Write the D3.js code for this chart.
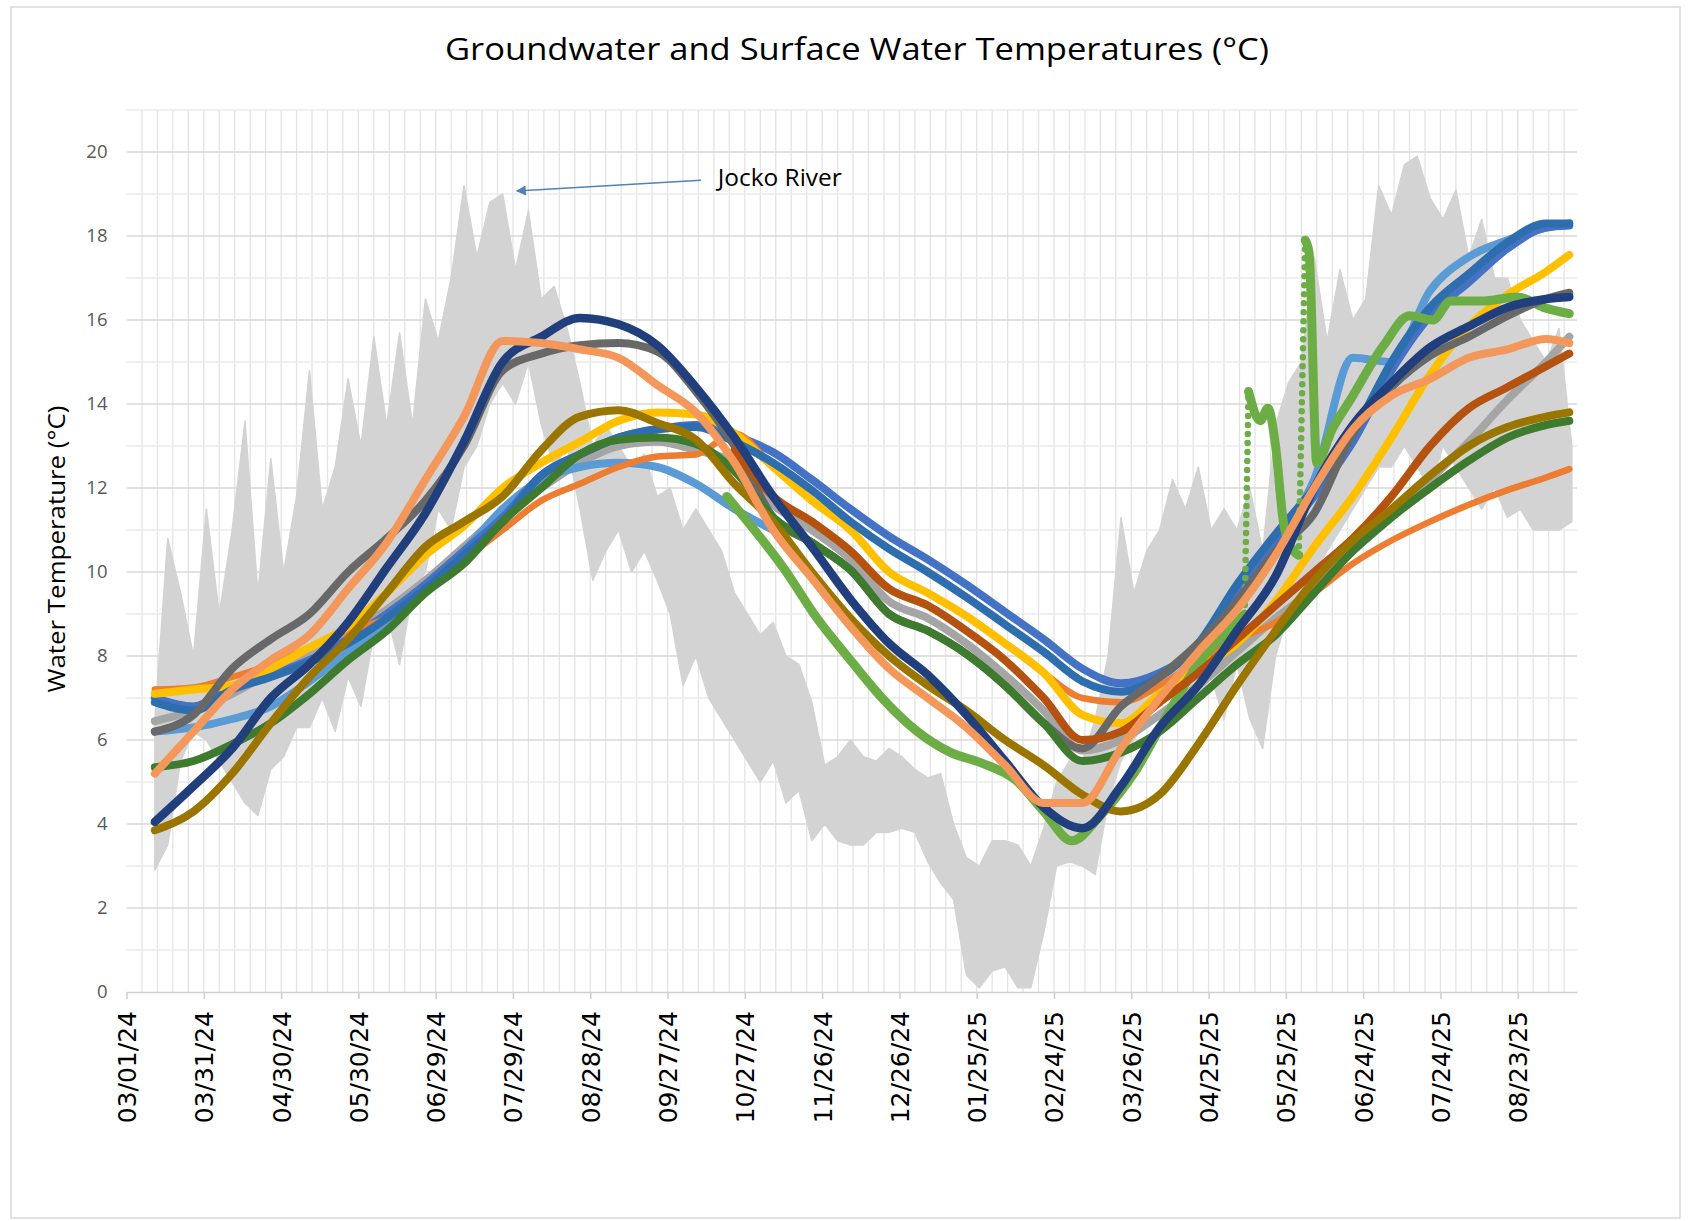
<!DOCTYPE html>
<html>
<head>
<meta charset="utf-8">
<title>Groundwater and Surface Water Temperatures</title>
<script src="https://cdn.jsdelivr.net/npm/d3@7"></script>
<style>
  body { margin: 0; background: #fff; }
  svg { display: block; }
</style>
</head>
<body>
<div id="chart"></div>
<script>
// ---- data (days counted from 03/01/24) ----
var gridDays = [11, 26, 41, 56, 71, 86, 101, 116, 131, 146, 161, 176, 191, 206, 221, 236, 251, 266, 281,
  296, 311, 326, 341, 356, 371, 386, 401, 416, 431, 446, 461, 476, 491, 506, 521, 536, 551, 560];

var grayTemps = [6.45, 6.7, 7.1, 7.6, 8.0, 8.5, 9.1, 9.8, 10.6, 11.4, 12.0, 12.6, 13.0, 13.1, 12.9, 12.6, 11.6, 11.0, 10.3,
  9.3, 8.9, 8.3, 7.55, 6.7, 5.75, 6.0, 6.6, 7.3, 8.1, 8.9, 9.6, 10.5, 11.3, 12.2, 13.1, 14.1, 15.0, 15.6];
var lightBlueTemps = [6.2, 6.3, 6.5, 6.8, 7.4, 8.1, 8.8, 9.7, 10.5, 11.5, 12.2, 12.5, 12.6, 12.5, 12.1, 11.5, 11.0, null, null,
  null, null, null, null, null, null, null, null, null, null, 10.8, 12.2, 15.1, 15.0, 16.7, 17.5, 17.9, 18.2, 18.3];
var royalBlueTemps = [7.0, 6.8, 7.25, 7.55, 7.9, 8.4, 9.0, 9.7, 10.5, 11.3, 12.3, 12.8, 13.2, 13.4, 13.5, 13.25, 12.85, 12.2, 11.5,
  10.85, 10.3, 9.7, 9.05, 8.4, 7.7, 7.35, 7.6, 8.2, 9.5, 10.7, 11.8, 13.1, 14.8, 16.1, 16.9, 17.7, 18.2, 18.25];
var orangeTemps = [7.2, 7.25, 7.5, 7.8, 8.2, 8.6, 8.9, 9.6, 10.3, 11.0, 11.7, 12.1, 12.5, 12.75, 12.8, 13.3, 12.5, 11.7, 11.0,
  10.0, 9.5, 8.95, 8.3, 7.6, 7.0, 6.9, 7.3, 7.9, 8.4, 8.8, 9.5, 10.2, 10.75, 11.2, 11.6, 11.95, 12.25, 12.45];
var goldTemps = [7.1, 7.2, 7.3, 7.7, 8.2, 8.7, 9.5, 10.4, 11.1, 12.0, 12.6, 13.1, 13.6, 13.8, 13.75, 13.3, 12.5, 11.7, 11.0,
  10.0, 9.5, 8.95, 8.3, 7.6, 6.6, 6.4, 7.1, 7.7, 8.3, 9.3, 10.6, 11.8, 13.2, 14.7, 15.85, 16.6, 17.15, 17.55];
var steelBlueTemps = [6.9, 6.7, 7.2, 7.5, 7.85, 8.3, 8.9, 9.6, 10.4, 11.2, 12.3, 12.8, 13.2, 13.4, 13.45, 13.1, 12.6, 11.95, 11.2,
  10.55, 10.0, 9.4, 8.75, 8.1, 7.4, 7.15, 7.5, 8.3, 9.7, 10.9, 12.0, 13.3, 15.0, 16.3, 17.1, 17.85, 18.3, 18.3];
var brownTemps = [null, null, null, null, null, null, null, null, null, null, null, null, null, null, null, 12.9, 11.8, 11.2, 10.5,
  9.6, 9.2, 8.6, 7.9, 7.0, 6.0, 6.2, 6.9, 7.6, 8.4, 9.2, 10.0, 10.8, 11.8, 13.0, 13.9, 14.4, 14.9, 15.2];
var darkGrayTemps = [6.2, 6.6, 7.7, 8.4, 9.0, 10.0, 10.8, 11.7, 13.0, 14.8, 15.2, 15.4, 15.45, 15.25, 14.3, 13.0, 11.3, 10.7, 10.05,
  9.0, 8.6, 8.05, 7.3, 6.4, 5.8, 6.8, 7.5, 8.3, 9.3, 10.5, 11.4, 13.3, 14.4, 15.15, 15.6, 16.1, 16.5, 16.65];
var darkGreenTemps = [5.35, 5.5, 5.9, 6.4, 7.1, 7.9, 8.6, 9.5, 10.2, 11.2, 12.0, 12.8, 13.15, 13.2, 13.05, 12.4, 11.3, 10.7, 10.05,
  9.0, 8.6, 8.05, 7.3, 6.4, 5.5, 5.7, 6.2, 7.0, 7.8, 8.5, 9.5, 10.5, 11.3, 12.0, 12.65, 13.2, 13.5, 13.6];
var oliveTemps = [3.85, 4.3, 5.2, 6.4, 7.5, 8.4, 9.5, 10.6, 11.2, 11.8, 12.9, 13.7, 13.85, 13.55, 13.15, 12.1, 11.2, 10.0, 8.9,
  8.0, 7.3, 6.7, 6.0, 5.4, 4.7, 4.3, 4.7, 5.9, 7.3, 8.6, 9.8, 10.75, 11.5, 12.3, 13.0, 13.45, 13.7, 13.8];
var navyTemps = [4.05, 4.9, 5.8, 7.0, 7.8, 8.8, 10.1, 11.4, 13.1, 15.0, 15.6, 16.05, 15.9, 15.4, 14.4, 13.2, 11.8, 10.6, 9.35,
  8.3, 7.55, 6.6, 5.5, 4.4, 3.9, 4.9, 6.3, 7.3, 8.6, 9.9, 12.0, 13.5, 14.5, 15.35, 15.85, 16.3, 16.5, 16.55];
var lightOrangeTemps = [5.2, 6.2, 7.2, 7.9, 8.5, 9.6, 10.7, 12.2, 13.7, 15.5, 15.45, 15.3, 15.1, 14.45, 13.8, 12.6, 11.0, 9.85, 8.7,
  7.7, 7.0, 6.3, 5.4, 4.5, 4.5, 5.8, 7.0, 8.1, 9.1, 10.4, 12.0, 13.4, 14.2, 14.6, 15.1, 15.3, 15.55, 15.45];

// green logger has its own (irregular) dates
var greenDays = [233, 245, 255, 268, 281, 294, 307, 320, 332, 345, 356, 367, 378, 391, 404, 417, 428, 434, 435.5, 440,
  443, 446, 449, 452, 455, 457.5, 459, 462, 468, 475, 488, 498, 507, 514, 526, 540, 550, 560];
var greenTemps = [11.8, 10.9, 10.1, 8.9, 7.9, 6.95, 6.2, 5.7, 5.45, 5.05, 4.3, 3.6, 4.2, 5.2, 6.6, 7.9, 8.6, 9.0, 14.3, 13.6,
  13.9, 13.0, 11.2, 10.6, 10.4, 17.9, 17.6, 12.6, 13.4, 14.1, 15.4, 16.1, 16.0, 16.45, 16.45, 16.55, 16.3, 16.15];

// Jocko River daily range, every 5 days from day 11
var jockoLow = [2.9, 3.5, 5.5, 6.2, 6.0, 5.5, 5.0, 4.5, 4.2, 5.3,
  5.6, 6.3, 6.3, 7.0, 6.2, 7.5, 6.8, 8.5, 9.0, 7.8,
  9.5, 10.0, 11.5, 11.0, 12.5, 13.0, 14.0, 14.5, 14.0, 15.0,
  13.5, 12.5, 13.0, 11.5, 9.8, 10.5, 11.0, 10.0, 10.5, 9.8,
  9.0, 7.3, 8.0, 7.0, 6.5, 6.0, 5.5, 5.0, 5.5, 4.5,
  4.8, 3.6, 4.0, 3.6, 3.5, 3.5, 3.8, 3.8, 3.9, 3.8,
  3.1, 2.6, 2.2, 0.4, 0.1, 0.5, 0.6, 0.1, 0.1, 1.4,
  3.0, 3.1, 3.0, 2.8, 4.5, 5.5, 6.0, 6.5, 7.0, 7.0,
  7.5, 7.0, 7.5, 6.5, 7.8, 6.5, 5.8, 8.0, 9.0, 9.5,
  10.0, 10.5, 11.0, 11.5, 12.0, 12.5, 12.5, 13.0, 12.5, 12.0,
  13.0, 12.5, 12.0, 11.5, 12.0, 11.3, 11.5, 11.0, 11.0, 11.0, 11.2];
var jockoHigh = [6.5, 10.8, 9.5, 8.0, 11.5, 9.0, 11.0, 13.6, 9.5, 12.7,
  10.0, 11.8, 14.8, 11.5, 12.5, 14.6, 13.0, 15.6, 13.5, 15.7,
  13.5, 16.5, 15.5, 17.0, 19.2, 17.5, 18.8, 19.0, 17.2, 18.6,
  16.5, 16.8, 15.8, 14.5, 13.0, 13.5, 13.0, 12.5, 12.8, 11.8,
  12.0, 11.0, 11.5, 11.0, 10.5, 9.5, 9.0, 8.5, 8.8, 8.0,
  7.8, 6.9, 5.4, 5.6, 6.0, 5.6, 5.5, 5.8, 5.6, 5.3,
  5.1, 5.2, 4.0, 3.2, 3.0, 3.6, 3.6, 3.5, 3.0, 3.9,
  5.0, 5.5, 5.5, 6.5, 8.0, 11.3, 9.5, 10.5, 11.0, 12.2,
  11.5, 12.5, 11.0, 11.5, 11.0, 12.0, 10.5, 13.5, 14.5, 15.0,
  17.5, 15.5, 17.2, 16.0, 16.5, 19.2, 18.5, 19.7, 19.9, 18.9,
  18.4, 19.1, 17.5, 18.4, 17.0, 17.0, 16.0, 15.5, 15.0, 15.8, 13.0];
var jockoDays = d3.range(11, 562, 5);

var yTicks = [0, 2, 4, 6, 8, 10, 12, 14, 16, 18, 20];
var xTickDays = d3.range(0, 541, 30);
var annotation = { label: "Jocko River", tailDay: 223, tailTemp: 19.33, headDay: 151.5, headTemp: 19.07, textDay: 229.5, textTemp: 19.2 };

// ---- layout ----
var svgWidth = 1688, svgHeight = 1221;
var plot = { left: 126.5, right: 1577, top: 110, bottom: 992 };
var fontMain = "'Open Sans', 'Noto Sans', sans-serif";

var day0 = Date.UTC(2024, 2, 1);
function toDate(d) { return new Date(day0 + d * 86400000); }

var svg = d3.select("#chart").append("svg")
  .attr("width", svgWidth)
  .attr("height", svgHeight);

// chart frame
svg.append("rect")
  .attr("x", 11).attr("y", 7)
  .attr("width", 1669).attr("height", 1211)
  .attr("fill", "#fff")
  .attr("stroke", "#d9d9d9")
  .attr("stroke-width", 1.5);

var x = d3.scaleUtc()
  .domain([toDate(0), toDate(563)])
  .range([plot.left, plot.right]);
var y = d3.scaleLinear()
  .domain([0, 21])
  .range([plot.bottom, plot.top]);

// gridlines
var grid = svg.append("g");
grid.selectAll(".vgrid")
  .data(d3.range(6, 564, 6))
  .enter().append("line")
  .attr("x1", d => x(toDate(d))).attr("x2", d => x(toDate(d)))
  .attr("y1", y(21)).attr("y2", y(0))
  .attr("stroke", "#e4e4e4").attr("stroke-width", 1.3);
grid.selectAll(".hminor")
  .data(d3.range(1, 22, 2))
  .enter().append("line")
  .attr("x1", plot.left).attr("x2", plot.right)
  .attr("y1", d => y(d)).attr("y2", d => y(d))
  .attr("stroke", "#ebebeb").attr("stroke-width", 1.3);
grid.selectAll(".hmajor")
  .data(yTicks.slice(1))
  .enter().append("line")
  .attr("x1", plot.left).attr("x2", plot.right)
  .attr("y1", d => y(d)).attr("y2", d => y(d))
  .attr("stroke", "#d9d9d9").attr("stroke-width", 1.6);

// Jocko River band
var jocko = jockoDays.map((d, i) => ({ d: d, lo: jockoLow[i], hi: jockoHigh[i] }));
svg.append("path")
  .datum(jocko)
  .attr("d", d3.area()
    .x(p => x(toDate(p.d)))
    .y0(p => y(p.lo))
    .y1(p => y(p.hi)))
  .attr("fill", "#d3d3d3")
  .attr("stroke", "#d3d3d3")
  .attr("stroke-width", 1.5)
  .attr("stroke-linejoin", "round");

// logger series, drawn bottom to top
var seriesList = [
  { name: "gray", values: grayTemps, color: "#A5A5A5", w: 8 },
  { name: "lightBlue", values: lightBlueTemps, color: "#5B9BD5", w: 8 },
  { name: "royalBlue", values: royalBlueTemps, color: "#4472C4", w: 8 },
  { name: "orange", values: orangeTemps, color: "#ED7D31", w: 6.5 },
  { name: "gold", values: goldTemps, color: "#FFC000", w: 8 },
  { name: "steelBlue", values: steelBlueTemps, color: "#2E6EAE", w: 8 },
  { name: "green", color: "#6CAE45", w: 9 },
  { name: "darkGray", values: darkGrayTemps, color: "#686868", w: 8 },
  { name: "brown", values: brownTemps, color: "#B5520F", w: 8 },
  { name: "darkGreen", values: darkGreenTemps, color: "#3E7B2F", w: 8 },
  { name: "olive", values: oliveTemps, color: "#9A7500", w: 8 },
  { name: "navy", values: navyTemps, color: "#213F7D", w: 8.5 },
  { name: "lightOrange", values: lightOrangeTemps, color: "#F4975B", w: 8 }
];

var line = d3.line()
  .defined(p => p.t != null)
  .x(p => x(toDate(p.d)))
  .y(p => y(p.t))
  .curve(d3.curveMonotoneX);

var linesG = svg.append("g").attr("fill", "none").attr("stroke-linecap", "round").attr("stroke-linejoin", "round");

seriesList.forEach(function(s) {
  if (s.name === "green") {
    // sudden upward jumps were logged sparsely: show them as dotted runs
    var pts = greenDays.map((d, i) => ({ d: d, t: greenTemps[i] }));
    var runs = [[pts[0]]], jumps = [];
    for (var i = 1; i < pts.length; i++) {
      if (pts[i].t - pts[i - 1].t >= 3) {
        jumps.push([pts[i - 1], pts[i]]);
        runs.push([pts[i]]);
      } else {
        runs[runs.length - 1].push(pts[i]);
      }
    }
    runs.forEach(function(r) {
      linesG.append("path").datum(r).attr("d", line)
        .attr("stroke", s.color).attr("stroke-width", s.w);
    });
    jumps.forEach(function(j) {
      linesG.append("path").datum(j).attr("d", d3.line().x(p => x(toDate(p.d))).y(p => y(p.t)))
        .attr("stroke", s.color).attr("stroke-width", 6.5)
        .attr("stroke-dasharray", "0,9");
    });
    return;
  }
  var pts = gridDays.map((d, i) => ({ d: d, t: s.values[i] }));
  linesG.append("path").datum(pts).attr("d", line)
    .attr("stroke", s.color).attr("stroke-width", s.w);
});

// x axis
var xAxis = svg.append("g")
  .attr("transform", `translate(0, ${plot.bottom})`)
  .call(d3.axisBottom(x)
    .tickValues(xTickDays.map(toDate))
    .tickFormat(d3.utcFormat("%m/%d/%y"))
    .tickSize(7)
    .tickSizeOuter(0));
xAxis.select(".domain").attr("stroke", "#d0d0d0").attr("stroke-width", 1.6);
xAxis.selectAll(".tick line").attr("stroke", "#d0d0d0").attr("stroke-width", 1.6);
xAxis.selectAll(".tick text")
  .attr("transform", "rotate(-90)")
  .attr("x", -19)
  .attr("y", 0)
  .attr("dy", "0.36em")
  .attr("text-anchor", "end")
  .attr("font-family", "'DejaVu Sans', Verdana, sans-serif")
  .attr("font-size", 25)
  .attr("fill", "#000");

// y axis labels
var yAxis = svg.append("g")
  .attr("transform", `translate(${plot.left}, 0)`)
  .call(d3.axisLeft(y).tickValues(yTicks).tickSize(0).tickPadding(19));
yAxis.select(".domain").remove();
yAxis.selectAll(".tick text")
  .attr("font-family", fontMain)
  .attr("font-size", 18.5)
  .attr("fill", "#595959");

// titles
svg.append("text")
  .attr("x", 857).attr("y", 60)
  .attr("text-anchor", "middle")
  .attr("font-family", fontMain)
  .attr("font-size", 31)
  .attr("textLength", 824)
  .attr("lengthAdjust", "spacingAndGlyphs")
  .attr("fill", "#000")
  .text("Groundwater and Surface Water Temperatures (°C)");

svg.append("text")
  .attr("transform", "translate(65, 549) rotate(-90)")
  .attr("text-anchor", "middle")
  .attr("font-family", fontMain)
  .attr("font-size", 23)
  .attr("textLength", 287)
  .attr("lengthAdjust", "spacingAndGlyphs")
  .attr("fill", "#000")
  .text("Water Temperature (°C)");

// annotation
svg.append("defs").append("marker")
  .attr("id", "arrow")
  .attr("viewBox", "0 0 10 10")
  .attr("refX", 9).attr("refY", 5)
  .attr("markerWidth", 13).attr("markerHeight", 10)
  .attr("markerUnits", "userSpaceOnUse")
  .attr("orient", "auto")
  .append("path")
  .attr("d", "M0,0 L10,5 L0,10 Z")
  .attr("fill", "#4F81BD");

svg.append("line")
  .attr("x1", x(toDate(annotation.tailDay))).attr("y1", y(annotation.tailTemp))
  .attr("x2", x(toDate(annotation.headDay))).attr("y2", y(annotation.headTemp))
  .attr("stroke", "#4F81BD").attr("stroke-width", 1.5)
  .attr("marker-end", "url(#arrow)");

svg.append("text")
  .attr("x", x(toDate(annotation.textDay)))
  .attr("y", y(annotation.textTemp))
  .attr("font-family", fontMain)
  .attr("font-size", 23)
  .attr("textLength", 124)
  .attr("lengthAdjust", "spacingAndGlyphs")
  .attr("fill", "#000")
  .text(annotation.label);
</script>
</body>
</html>
